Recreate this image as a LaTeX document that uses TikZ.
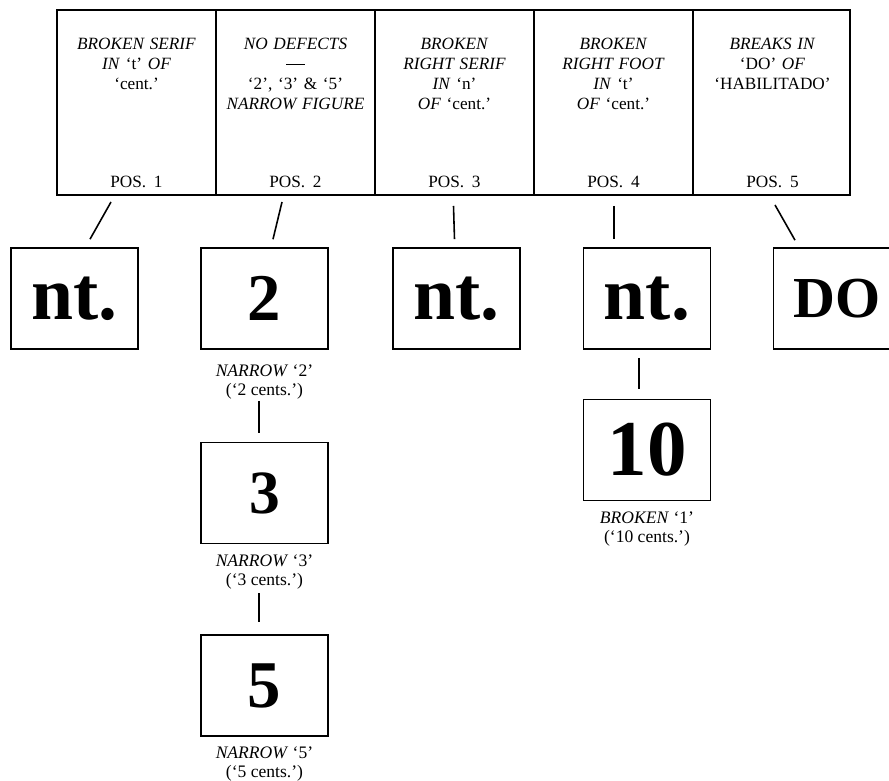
\documentclass[tikz,border=0pt]{standalone}
\usepackage{fontspec}
\setmainfont{Liberation Serif}
\newfontfamily\stampfont{Liberation Serif}
\usetikzlibrary{positioning}

\tikzset{
  head/.style={anchor=north, text width=3.1cm, align=center, inner sep=0pt, font=\fontsize{9.8}{11.4}\selectfont},
  poslabel/.style={inner sep=0pt, font=\fontsize{9.8}{11.4}\selectfont},
  sample/.style={draw, line width=0.9pt, minimum width=2.54cm, minimum height=2.02cm, inner sep=0pt},
  stamp/.style={font=\stampfont\bfseries\fontsize{#1}{#1}\selectfont},
  caption/.style={align=center, inner sep=0pt, font=\fontsize{10}{10.8}\selectfont},
  link/.style={line width=0.9pt},
}

\begin{document}
\begin{tikzpicture}

\useasboundingbox (0,0) rectangle (17.78,15.62);
\clip (0,0) rectangle (17.78,15.62);

% table of positions
\draw[line width=0.8pt] (1.14,11.72) rectangle (17.0,15.42);
\foreach \x in {4.32,7.50,10.68,13.86}
  \draw[line width=0.8pt] (\x,15.42) -- (\x,11.72);

\foreach \i/\x in {1/2.73,2/5.91,3/9.09,4/12.27,5/15.45} {
  \coordinate (b\i) at (\x,11.72);
  \node[poslabel] (pos\i) at (\x,11.98) {POS.\hspace{0.45em}\i};
}

\node[head] (h1) at (2.73,14.86) {\textit{BROKEN SERIF}\\ \textit{IN} ‘t’ \textit{OF}\\ ‘cent.’};
\node[head] (h2) at (5.91,14.86) {\textit{NO DEFECTS}\\ \rule[0.6ex]{0.38cm}{0.5pt}\\ ‘2’, ‘3’ \& ‘5’\\ \textit{NARROW FIGURE}};
\node[head] (h3) at (9.09,14.86) {\textit{BROKEN}\\ \textit{RIGHT SERIF}\\ \textit{IN} ‘n’\\ \textit{OF} ‘cent.’};
\node[head] (h4) at (12.27,14.86) {\textit{BROKEN}\\ \textit{RIGHT FOOT}\\ \textit{IN} ‘t’\\ \textit{OF} ‘cent.’};
\node[head] (h5) at (15.45,14.86) {\textit{BREAKS IN}\\ ‘DO’ \textit{OF}\\ ‘HABILITADO’};

% samples
\node[sample, stamp=43] (s1) at (1.49,9.65) {nt.};
\node[sample, stamp=38] (s2) at (5.29,9.65) {2};
\node[sample, stamp=43] (s3) at (9.13,9.65) {nt.};
\node[sample, stamp=43] (s4) at (12.94,9.65) {nt.};
\node[sample, stamp=33] (s5) at (16.74,9.65) {DO};

\node[sample, stamp=35] (t3) at (5.29,5.76) {3};
\node[sample, stamp=38] (t5) at (5.29,1.91) {5};
\node[sample, stamp=45] (t10) at (12.94,6.62) {10};

\node[caption, below=0.3cm of s2] (n2) {\textit{NARROW} ‘2’\\(‘2 cents.’)};
\node[caption, below=0.2cm of t3] (n3) {\textit{NARROW} ‘3’\\(‘3 cents.’)};
\node[caption, below=0.2cm of t5] (n5) {\textit{NARROW} ‘5’\\(‘5 cents.’)};
\node[caption, below=0.2cm of t10] (n10) {\textit{BROKEN} ‘1’\\(‘10 cents.’)};

% links
\draw[link] ([xshift=-0.51cm,yshift=-0.14cm]b1) -- ([xshift=0.31cm,yshift=0.16cm]s1.north);
\draw[link] ([xshift=-0.27cm,yshift=-0.14cm]b2) -- ([xshift=0.17cm,yshift=0.16cm]s2.north);
\draw[link] ([xshift=-0.02cm,yshift=-0.22cm]b3) -- ([xshift=-0.04cm,yshift=0.16cm]s3.north);
\draw[link] ([xshift=0.01cm,yshift=-0.22cm]b4) -- ([xshift=-0.66cm,yshift=0.16cm]s4.north);
\draw[link] ([xshift=0.05cm,yshift=-0.2cm]b5) -- ([xshift=-0.84cm,yshift=0.14cm]s5.north);

\draw[link] ([xshift=-0.11cm,yshift=-0.02cm]n2.south) -- ([xshift=-0.11cm,yshift=0.18cm]t3.north);
\draw[link] ([xshift=-0.11cm,yshift=-0.08cm]n3.south) -- ([xshift=-0.11cm,yshift=0.24cm]t5.north);
\draw[link] ([xshift=-0.16cm,yshift=-0.16cm]s4.south) -- ([xshift=-0.16cm,yshift=0.2cm]t10.north);

\end{tikzpicture}
\end{document}
